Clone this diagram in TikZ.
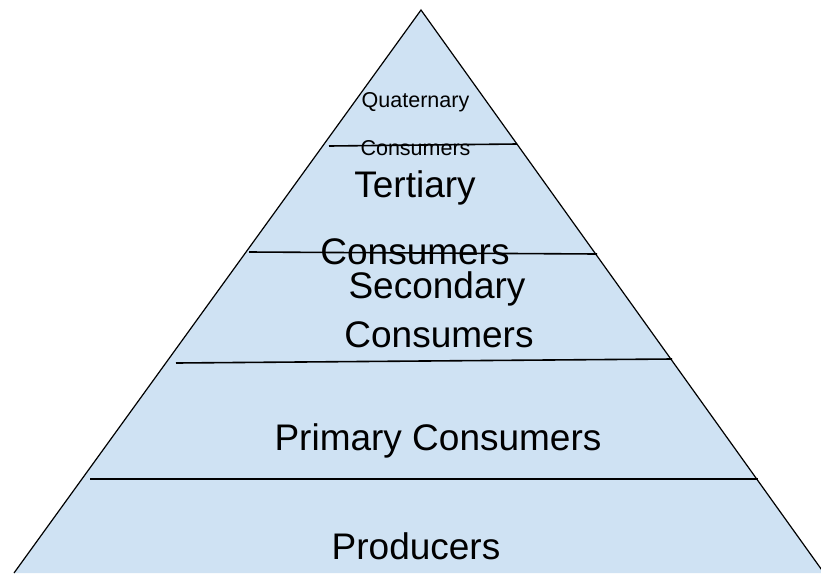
\documentclass[tikz,border=0pt]{standalone}
\usepackage{fontspec}
\setmainfont{Liberation Sans}
\usepackage{tikz}
\definecolor{pyrblue}{RGB}{207,226,243}
\tikzset{
  big/.style={font=\fontsize{37}{37}\selectfont, anchor=base, inner sep=0pt},
  small/.style={font=\fontsize{21.5}{21.5}\selectfont, anchor=base, inner sep=0pt},
  tier/.style={line width=1.6pt, black},
}
\begin{document}
\begin{tikzpicture}[x=1pt,y=-1pt]
\useasboundingbox (0,0) rectangle (821,573);
\begin{scope}
\clip (0,0) rectangle (821,573);
\coordinate (top) at (421,10);
\coordinate (bl) at (14,573);
\coordinate (br) at (824,573);
\fill[pyrblue] (bl) -- (top) -- (br) -- cycle;
\draw[line width=1.2pt] (bl) -- (top) -- (br);
\end{scope}
%
\draw[tier] (329,146) -- (517,144);
\draw[tier] (249,252) -- (597,254);
\draw[tier] (176,363) -- (672,359);
\draw[tier] (90,479) -- (758,479);
%
\node[small] (quatA) at (415.5,107) {Quaternary};
\node[small] (quatB) at (415.5,155) {Consumers};
\node[big] (tertA) at (415,197) {Tertiary};
\node[big] (tertB) at (415,264) {Consumers};
\node[big] (secA) at (437,298) {Secondary};
\node[big] (secB) at (439,347) {Consumers};
\node[big] (prim) at (438,450) {Primary Consumers};
\node[big] (prod) at (416,559) {Producers};
\end{tikzpicture}
\end{document}
